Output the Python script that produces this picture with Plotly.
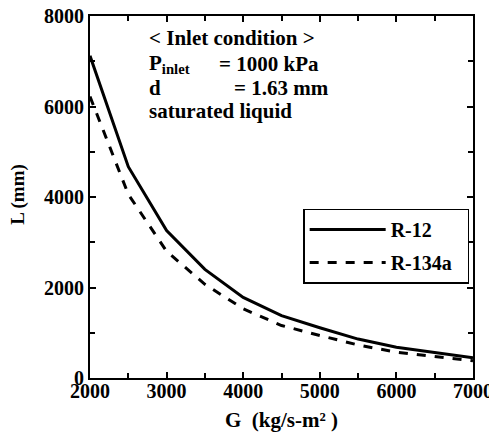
import plotly.graph_objects as go

G = [2000, 2500, 3000, 3500, 4000, 4500, 5000, 5500, 6000, 6500, 7000]
L_R12 = [7120, 4670, 3260, 2400, 1780, 1380, 1110, 860, 680, 560, 450]
L_R134a = [6220, 4060, 2800, 2070, 1530, 1160, 940, 730, 570, 480, 380]

x_ticks = [2000, 3000, 4000, 5000, 6000, 7000]
y_ticks = [0, 2000, 4000, 6000, 8000]

FONT = "Liberation Serif"
fig = go.Figure()
fig.add_trace(go.Scatter(x=G, y=L_R12, mode="lines", name="R-12", legendgroup="a",
                         line=dict(color="black", width=3)))
fig.add_trace(go.Scatter(x=G, y=L_R134a, mode="lines", name="R-134a\u00a0\u00a0", legendgroup="b",
                         line=dict(color="black", width=3, dash="dash")))

axis_common = dict(showgrid=False, zeroline=False, showline=True, linecolor="black", linewidth=2,
                   mirror="allticks", ticks="inside", ticklen=6, tickwidth=1.5, tickcolor="black",
                   automargin=False, ticklabeloverflow="allow",
                   tickfont=dict(family=FONT, size=20, color="black", weight="bold"))
fig.update_xaxes(range=[2000, 7000], tickvals=x_ticks, ticktext=[str(v) for v in x_ticks],
                 minor=dict(ticks="inside", ticklen=5, tickwidth=1.5, tickcolor="black", dtick=500),
                 ticklabelstandoff=-6,
                 **axis_common)
fig.update_yaxes(range=[0, 8000], tickvals=y_ticks, ticktext=[str(v) for v in y_ticks],
                 minor=dict(ticks="inside", ticklen=5, tickwidth=1.5, tickcolor="black", dtick=1000),
                 **axis_common)

fig.add_annotation(xref="paper", yref="paper", x=0.5, y=0, yanchor="top", yshift=-28,
                   text="G  (kg/s-m² )", showarrow=False,
                   font=dict(family=FONT, size=21, color="black", weight="bold"))
fig.add_annotation(xref="paper", yref="paper", x=0, y=0.506, xanchor="center", yanchor="middle",
                   xshift=-72, textangle=-90, text="L (mm)", showarrow=False,
                   font=dict(family=FONT, size=19, color="black", weight="bold"))

afont = dict(family=FONT, size=21, color="black", weight="bold")
lines_left = [("< Inlet condition >", 7520), ("P<sub>inlet</sub>", 6940), ("d", 6400), ("saturated liquid", 5890)]
for txt, yv in lines_left:
    fig.add_annotation(x=2740, y=yv, text=txt, showarrow=False, xanchor="left", yanchor="middle", font=afont)
fig.add_annotation(x=3658, y=6940, text="= 1000 kPa", showarrow=False, xanchor="left", yanchor="middle", font=afont)
fig.add_annotation(x=3854, y=6400, text="= 1.63 mm", showarrow=False, xanchor="left", yanchor="middle", font=afont)

fig.update_layout(
    width=489, height=426,
    margin=dict(l=82, r=24, t=8, b=56),
    paper_bgcolor="white", plot_bgcolor="white",
    legend=dict(x=0.99, y=0.468, xanchor="right", yanchor="top",
                bordercolor="black", borderwidth=1.5, bgcolor="white",
                font=dict(family=FONT, size=20, color="black", weight="bold"),
                itemwidth=76, tracegroupgap=4),
    showlegend=True,
)
fig.write_html("out.html")
